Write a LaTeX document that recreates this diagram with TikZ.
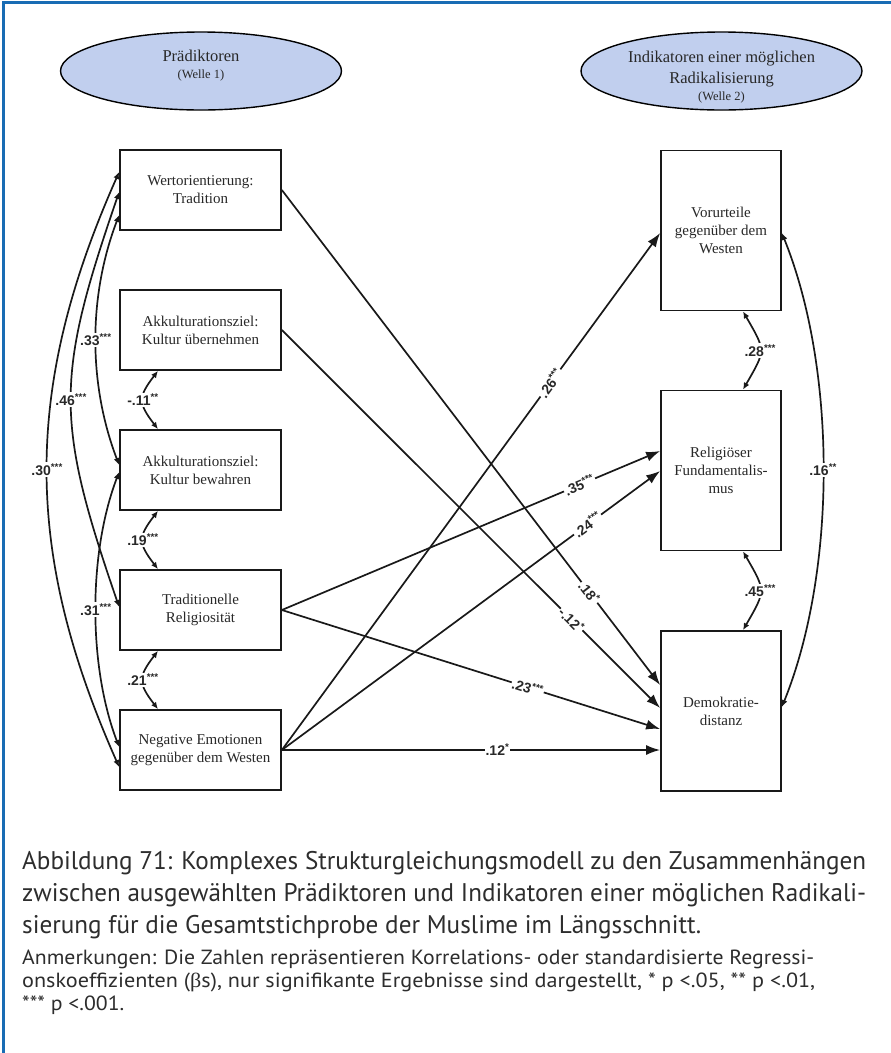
\documentclass[tikz,border=0pt]{standalone}
\usepackage{fontspec}
\usepackage{graphicx}
\setmainfont{Liberation Serif}
\newfontfamily\lblfont{Liberation Sans}
\newfontfamily\capfont{PT Sans}
\newfontfamily\betafont{Liberation Serif}
\usetikzlibrary{shapes.geometric,arrows.meta,calc}
\definecolor{frameblue}{RGB}{24,108,180}
\definecolor{ellfill}{RGB}{193,207,238}
\definecolor{txt}{RGB}{40,40,40}
\definecolor{captxt}{RGB}{45,45,45}
\newlength\capwA
\newlength\capwB
\newcommand\capA{\capfont\fontsize{25.5}{30}\selectfont}
\newcommand\capB{\capfont\fontsize{20.5}{24}\selectfont}
\begin{document}
\settowidth\capwA{\capA Abbildung 71: Komplexes Strukturgleichungsmodell zu den Zusammenhängen}%
\pgfmathsetmacro\capscale{844/\capwA}%
\settowidth\capwB{\capB Anmerkungen: Die Zahlen repräsentieren Korrelations- oder standardisierte Regressi-}%
\pgfmathsetmacro\notescale{792/\capwB}%
\begin{tikzpicture}[x=1pt,y=-1pt,
  box/.style={draw=black!90, line width=1.7pt, minimum width=161pt, minimum height=80pt, inner sep=0pt, align=center, font=\fontsize{15}{18}\selectfont, text=txt},
  rbox/.style={box, minimum width=120pt, minimum height=160pt},
  ell/.style={ellipse, draw=black, line width=1.4pt, fill=ellfill, minimum width=281pt, minimum height=78pt, inner sep=0pt},
  elltext/.style={align=center, text=txt, inner sep=0pt, font=\fontsize{16.5}{20}\selectfont},
  reg/.style={line width=1.7pt, black!90, -{Latex[length=14pt,width=10pt]}},
  cov/.style={line width=1.7pt, black!90, {Latex[length=7pt,width=6pt]}-{Latex[length=7pt,width=6pt]}},
  lbl/.style={font=\lblfont\bfseries\fontsize{14}{16}\selectfont, fill=white, inner sep=1pt, text=txt},
  capline/.style={anchor=base west, inner sep=0pt, text=captxt},
]
\useasboundingbox (0,0) rectangle (891,1053);
\fill[white] (0,0) rectangle (891,1053);
\draw[frameblue, line width=3.5pt] (3.5,1053) -- (3.5,2.5) -- (891,2.5);

% ellipses
\node[ell] (e1) at (201,71) {};
\node[elltext] (e1t) at (201,66) {Prädiktoren\\[-3pt]{\fontsize{12.5}{15}\selectfont (Welle 1)}};
\node[ell] (e2) at (721.5,71) {};
\node[elltext] (e2t) at (721.5,77) {Indikatoren einer möglichen\\[1pt]Radikalisierung\\[-3pt]{\fontsize{12.5}{15}\selectfont (Welle 2)}};

% left boxes
\node[box] (w)  at (200.5,190) {Wertorientierung:\\Tradition};
\node[box] (au) at (200.5,330) {Akkulturationsziel:\\Kultur übernehmen};
\node[box] (ab) at (200.5,470) {Akkulturationsziel:\\Kultur bewahren};
\node[box] (tr) at (200.5,610) {Traditionelle\\Religiosität};
\node[box] (ne) at (200.5,750) {Negative Emotionen\\gegenüber dem Westen};

% right boxes
\node[rbox] (vo) at (721,230.5) {Vorurteile\\gegenüber dem\\Westen};
\node[rbox] (fu) at (721,470.5) {Religiöser\\Fundamentalis-\\mus};
\node[rbox] (de) at (721,711) {Demokratie-\\distanz};

% regression paths
\draw[reg] (w.east) -- ($(de.west)+(0,-26)$) node[lbl,sloped,pos=0.813]{.18\textsuperscript{*}};
\draw[reg] (au.east) -- ($(de.west)+(0,-3)$) node[lbl,sloped,pos=0.766]{-.12\textsuperscript{*}};
\draw[reg] (tr.east) -- ($(de.west)+(0,18)$) node[lbl,sloped,pos=0.65]{.23\textsuperscript{***}};
\draw[reg] (ne.east) -- ($(de.west)+(0,39)$) node[lbl,pos=0.57]{.12\textsuperscript{*}};
\draw[reg] (tr.east) -- ($(fu.west)+(0,-19.5)$) node[lbl,sloped,pos=0.787]{.35\textsuperscript{***}};
\draw[reg] (ne.east) -- ($(fu.west)+(0,0.5)$) node[lbl,sloped,pos=0.808]{.24\textsuperscript{***}};
\draw[reg] (ne.east) -- ($(vo.west)+(0,2.5)$) node[lbl,sloped,pos=0.71]{.26\textsuperscript{***}};

% long covariances on the left
\coordinate (w30) at ($(w.west)+(0,-18)$);
\coordinate (w46) at ($(w.west)+(0,2)$);
\coordinate (w33) at ($(w.west)+(0,25)$);
\coordinate (ab33) at ($(ab.west)+(0,-5)$);
\coordinate (ab31) at ($(ab.west)+(0,2)$);
\coordinate (tr46) at ($(tr.west)+(0,-3)$);
\coordinate (ne31) at ($(ne.west)+(0,-3)$);
\coordinate (ne30) at ($(ne.west)+(0,17)$);
\draw[cov] (w30) .. controls ($(w30)+(-96,216)$) and ($(ne30)+(-96,-216)$) .. (ne30) node[lbl,pos=0.5]{.30\textsuperscript{***}};
\draw[cov] (w46) .. controls ($(w46)+(-64,186)$) and ($(tr46)+(-64,-186)$) .. (tr46) node[lbl,pos=0.5]{.46\textsuperscript{***}};
\draw[cov] (w33) .. controls ($(w33)+(-31,81)$) and ($(ab33)+(-31,-81)$) .. (ab33) node[lbl,pos=0.5]{.33\textsuperscript{***}};
\draw[cov] (ab31) .. controls ($(ab31)+(-31,81)$) and ($(ne31)+(-31,-81)$) .. (ne31) node[lbl,pos=0.5]{.31\textsuperscript{***}};

% short covariances on the left
\coordinate (au11) at ($(au.south)+(-42.5,0)$);
\coordinate (ab11) at ($(ab.north)+(-42.5,0)$);
\coordinate (ab19) at ($(ab.south)+(-42.5,0)$);
\coordinate (tr19) at ($(tr.north)+(-42.5,0)$);
\coordinate (tr21) at ($(tr.south)+(-42.5,0)$);
\coordinate (ne21) at ($(ne.north)+(-42.5,0)$);
\draw[cov] (au11) .. controls ($(au11)+(-20,26)$) and ($(ab11)+(-20,-26)$) .. (ab11) node[lbl,pos=0.5]{-.11\textsuperscript{**}};
\draw[cov] (ab19) .. controls ($(ab19)+(-20,26)$) and ($(tr19)+(-20,-26)$) .. (tr19) node[lbl,pos=0.5]{.19\textsuperscript{***}};
\draw[cov] (tr21) .. controls ($(tr21)+(-20,26)$) and ($(ne21)+(-20,-26)$) .. (ne21) node[lbl,pos=0.5]{.21\textsuperscript{***}};

% right covariances
\coordinate (vo28) at ($(vo.south)+(22,0)$);
\coordinate (fu28) at ($(fu.north)+(22,0)$);
\coordinate (fu45) at ($(fu.south)+(22,0)$);
\coordinate (de45) at ($(de.north)+(22,0)$);
\coordinate (vo16) at ($(vo.east)+(0,2.5)$);
\coordinate (de16) at ($(de.east)+(0,-4)$);
\draw[cov] (vo28) .. controls ($(vo28)+(23,40)$) and ($(fu28)+(23,-40)$) .. (fu28) node[lbl,pos=0.5]{.28\textsuperscript{***}};
\draw[cov] (fu45) .. controls ($(fu45)+(23,40)$) and ($(de45)+(23,-40)$) .. (de45) node[lbl,pos=0.5]{.45\textsuperscript{***}};
\draw[cov] (vo16) .. controls ($(vo16)+(55,136)$) and ($(de16)+(55,-136)$) .. (de16) node[lbl,pos=0.5]{.16\textsuperscript{**}};

% caption
\node[capline] (cap1) at (22,869) {\resizebox{844pt}{\height}{\capA Abbildung 71: Komplexes Strukturgleichungsmodell zu den Zusammenhängen}};
\node[capline] (cap2) at (22,901) {\resizebox{844pt}{\height}{\capA zwischen ausgewählten Prädiktoren und Indikatoren einer möglichen Radikali-}};
\node[capline] (cap3) at (22,933) {\scalebox{\capscale}[1]{\capA sierung für die Gesamtstichprobe der Muslime im Längsschnitt.}};
\node[capline] (note1) at (22,964) {\resizebox{792pt}{\height}{\capB Anmerkungen: Die Zahlen repräsentieren Korrelations- oder standardisierte Regressi-}};
\node[capline] (note2) at (22,987) {\resizebox{793pt}{\height}{\capB onskoeffizienten ({\betafont β}s), nur signifikante Ergebnisse sind dargestellt, * p <.05, ** p <.01,}};
\node[capline] (note3) at (22,1010) {\scalebox{\notescale}[1]{\capB *** p <.001.}};
\end{tikzpicture}
\end{document}
